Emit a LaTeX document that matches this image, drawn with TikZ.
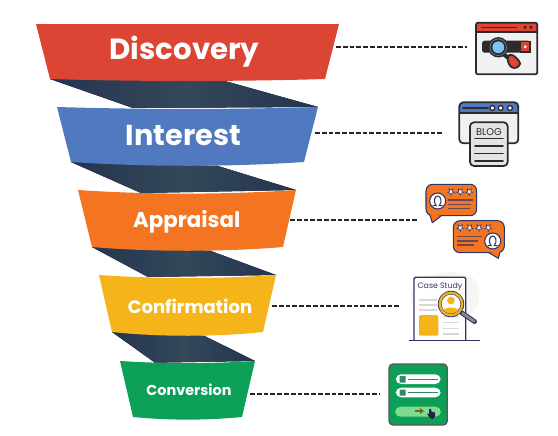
\documentclass[tikz,border=0pt]{standalone}
\usepackage{fontspec}
\setmainfont{Poppins}
\usetikzlibrary{shadings}
\definecolor{cRed}{HTML}{DC4434}
\definecolor{cBlue}{HTML}{5079BF}
\definecolor{cOrange}{HTML}{F47521}
\definecolor{cYellow}{HTML}{F4B41A}
\definecolor{cGreen}{HTML}{0B9F57}
\definecolor{cDarkA}{HTML}{25344F}
\definecolor{cDarkB}{HTML}{33485A}
\definecolor{cInk}{HTML}{2B2B2B}
\definecolor{cNavy}{HTML}{2E3566}
\definecolor{cPale}{HTML}{F1F1F1}
\definecolor{cLine}{HTML}{D8D8D8}
\definecolor{cMint}{HTML}{7FDC8F}
\definecolor{cSky}{HTML}{7CC4F4}
\definecolor{cFormInk}{HTML}{2F8A6A}
\tikzset{
  band/.style={fill=#1,draw=none},
  fold/.style={left color=cDarkA,right color=cDarkA,middle color=cDarkB,draw=none},
  label/.style={text=white,font=\bfseries,inner sep=0pt,anchor=center},
  leader/.style={draw=black!85,line width=1pt,dash pattern=on 3.6pt off 1.5pt},
  ink/.style={draw=cInk,line width=1.3pt,line join=round},
  inkline/.style={draw=cInk,line width=1.2pt,line cap=round},
  navyline/.style={draw=cNavy,line width=0.8pt,line join=round},
  orangeline/.style={draw=#1,line width=0.8pt},
  star/.pic={\fill[white,draw=cNavy,line width=0.4pt] (90:3.6)--(126:1.5)--(162:3.6)--(198:1.5)--(234:3.6)--(270:1.5)--(306:3.6)--(342:1.5)--(18:3.6)--(54:1.5)--cycle;},
  face/.pic={\fill[white,draw=cNavy,line width=0.8pt] (0,0) circle (8);
    \draw[cNavy,line width=0.8pt,line cap=round] (-4.6,4.6)--(-1.6,4.6) .. controls (-4.8,1) and (-3.2,-5) .. (0,-5) .. controls (3.2,-5) and (4.8,1) .. (1.6,4.6)--(4.6,4.6);}
}
\begin{document}
\begin{tikzpicture}[x=0.75pt,y=-0.75pt]
\useasboundingbox (0,0) rectangle (558,436);
% folds
\fill[fold] (50,79)--(133,108)--(318,107)--(225,81)--cycle;
\fill[fold] (71,162)--(141,193)--(296,190)--(218,166)--cycle;
\fill[fold] (92,247)--(148,277)--(276,275)--(210,250.7)--cycle;
\fill[fold] (112,332)--(155,362.7)--(255,361)--(204,335.7)--cycle;
% bands
\fill[band=cRed] (36,24)--(339,24)--(325,79) .. controls (240,81.6) and (135,81.6) .. (50,79)--cycle;
\fill[band=cBlue] (57,107) .. controls (145,109.6) and (230,109.6) .. (318,107)--(304,162) .. controls (230,167) and (145,167) .. (71,162)--cycle;
\fill[band=cOrange] (78,190) .. controls (150,194.8) and (224,194.8) .. (296,190)--(283,247) .. controls (224,252) and (150,252) .. (92,247)--cycle;
\fill[band=cYellow] (99,275) .. controls (158,279) and (217,279) .. (276,275)--(263,332) .. controls (217,337) and (158,337) .. (112,332)--cycle;
\fill[band=cGreen] (120,361) .. controls (165,363.8) and (210,363.8) .. (255,361)--(242,417) .. controls (205,420.5) and (170,420.5) .. (133,417)--cycle;
% labels
\node[label,font=\bfseries\fontsize{21.9}{22}\selectfont] (discovery) at (184.5,52) {Discovery};
\node[label,font=\bfseries\fontsize{21.6}{22}\selectfont] (interest) at (183.5,135.5) {Interest};
\node[label,font=\bfseries\fontsize{16}{18}\selectfont] (appraisal) at (186.7,222) {Appraisal};
\node[label,font=\bfseries\fontsize{13.5}{15}\selectfont] (confirmation) at (190,306) {Confirmation};
\node[label,font=\bfseries\fontsize{10.8}{13}\selectfont] (conversion) at (189,389.5) {Conversion};
% leader ends
\coordinate (s1) at (336,47); \coordinate (e1) at (467,47);
\coordinate (s2) at (315,133); \coordinate (e2) at (443,133);
\coordinate (s3) at (290,220); \coordinate (e3) at (418,220);
\coordinate (s4) at (272,306); \coordinate (e4) at (400,306);
\coordinate (s5) at (250,394); \coordinate (e5) at (380,394);
\foreach \i in {1,...,5} \draw[leader] (s\i)--(e\i);
% icon 1: search window
\fill[cPale,rounded corners=1.5pt] (476,22.7) rectangle (537.3,74.3);
\fill[cRed,rounded corners=1.5pt] (476,22.7) rectangle (537.3,31.7);
\draw[ink,rounded corners=1.5pt] (476,22.7) rectangle (537.3,74.3);
\draw[ink] (476,31.7)--(537.3,31.7);
\draw[inkline] (482,27.3)--(516,27.3);
\fill[cInk] (525,27.3) circle (1.7) (531,27.3) circle (1.7);
\fill[cInk,rounded corners=2pt] (482,40.7) rectangle (530.7,52.7);
\fill[cRed,draw=cInk,line width=0.8pt] (520.5,41.5) rectangle (530,52);
\fill[white] (525.2,46.8) circle (1.6);
\draw[cInk,line width=3pt] (504,54.5)--(511,60);
\draw[ink,fill=cRed,rounded corners=2.5pt] (507,57)--(511,53.5)--(520,61)--(520,66)--(514,69)--(509,65.5)--cycle;
\fill[cInk] (498.3,47.3) circle (10.2);
\draw[black!55,line width=0.6pt] (498.3,47.3) circle (8.3);
\fill[cSky] (498.3,47.3) circle (5.9);
% icon 2: blog
\fill[cPale,rounded corners=3pt] (459.3,102.3) rectangle (518.3,143.3);
\fill[cBlue,rounded corners=3pt] (459.3,102.3) rectangle (518.3,113.3);
\draw[ink,rounded corners=3pt] (459.3,102.3) rectangle (518.3,143.3);
\draw[ink] (459.3,113.3)--(518.3,113.3);
\draw[inkline] (463,108)--(488,108);
\foreach \x in {492.3,500.7,510} \draw[ink,line width=1pt,fill=white] (\x,108) circle (2.4);
\draw[ink,fill=cLine!70!white,rounded corners=3pt] (470,122.3) rectangle (507.7,166);
\node[text=cInk,inner sep=0pt,font=\fontsize{7.4}{8}\selectfont] (blog) at (489,131.8) {BLOG};
\foreach \y in {138.3,146,153.3,160.7} \draw[inkline] (475,\y)--(503,\y);
% icon 3: review bubbles
\draw[navyline,fill=cOrange,rounded corners=5pt] (426,184.3) rectangle (476.7,215.7);
\fill[cOrange,draw=cNavy,line width=0.8pt,line join=round] (430,215.4)--(432.3,222.7)--(441.7,215.4);
\fill[cOrange] (431,214)--(440,214)--(432.6,220)--cycle;
\pic at (437.7,201) {face};
\foreach \x in {451,460.3,469.3} \pic at (\x,191.7) {star};
\foreach \y/\e in {200/472.7,204.3/471,208.3/470} \draw[orangeline=cNavy!70!cOrange] (447.7,\y)--(\e,\y);
\draw[navyline,fill=cOrange,rounded corners=5pt] (453.3,220.7) rectangle (504.3,252.7);
\fill[cOrange,draw=cNavy,line width=0.8pt,line join=round] (488.3,252.4)--(498.3,258.3)--(500,252.4);
\fill[cOrange] (490,251)--(499,251)--(498,256)--cycle;
\pic at (492.7,241) {face};
\foreach \x in {460.3,469.7,479,488.3} \pic at (\x,227.7) {star};
\foreach \y/\e in {236.7/481.7,241/478,245/474} \draw[orangeline=cNavy!70!cOrange] (457.3,\y)--(\e,\y);
% icon 4: case study
\fill[black!4] (412,290) .. controls (425,270) and (470,265) .. (478,285) .. controls (484,305) and (470,320) .. (455,318) .. controls (430,322) and (405,312) .. (412,290)--cycle;
\draw[navyline,line width=1pt,fill=white,rounded corners=1pt] (414,340.3)--(414,277.3)--(465.7,277.3)--(465.7,340.3);
\draw[cNavy,line width=1.1pt] (409.3,340.3)--(480,340.3);
\node[text=cNavy,inner sep=0pt,font=\fontsize{5.9}{7}\selectfont] (casestudy) at (440,287) {Case Study};
\foreach \y in {300,305,310} \draw[cLine,line width=0.8pt] (419,\y)--(436.7,\y);
\foreach \y in {316.7,322.3,328.3,334} \draw[cLine,line width=0.8pt] (443.3,\y)--(459.3,\y);
\fill[cYellow,rounded corners=1pt] (419,315) rectangle (438.3,335.7);
\draw[cNavy,line width=3.6pt,line cap=round] (462,313)--(474.5,321.5);
\draw[black!45,line width=2pt,line cap=round] (462.5,313.3)--(474,321.2);
\fill[cNavy] (451,304) circle (13.2);
\fill[cYellow] (451,304) circle (12.4);
\fill[cNavy] (451,304) circle (10);
\fill[white] (451,304) circle (9.4);
\begin{scope}
\clip (451,304) circle (9.4);
\fill[cYellow] (451,300.5) circle (3.8);
\fill[cYellow] (441.5,313.5) .. controls (442,305.5) and (460,305.5) .. (460.5,313.5)--cycle;
\end{scope}
% icon 5: form
\fill[cGreen,draw=black!65,line width=1pt,rounded corners=3pt] (389,364) rectangle (447.3,425);
\fill[white,rounded corners=4pt] (395.7,374.3) rectangle (440.7,384);
\fill[white,rounded corners=4pt] (395.7,387.7) rectangle (440.7,397.3);
\fill[cFormInk] (399.5,376) rectangle (405.5,382.5) (399.5,389.5) rectangle (405.5,395.5);
\draw[cFormInk,line width=1pt] (408,379.2)--(438,379.2) (408,392.6)--(438,392.6);
\fill[cMint,rounded corners=4pt] (395,406.7) rectangle (441,416.7);
\draw[olive!70!black,line width=1.1pt] (415,411)--(422,411);
\fill[olive!70!black] (424,411)--(420,408)--(420,414)--cycle;
\fill[cNavy!70!black] (429,409)--(431,409)--(431.5,411.5)--(435,412.5)--(435,416.5)--(432.5,419)--(429.5,417.5)--(427,413.5)--(429,414)--cycle;
\end{tikzpicture}
\end{document}
